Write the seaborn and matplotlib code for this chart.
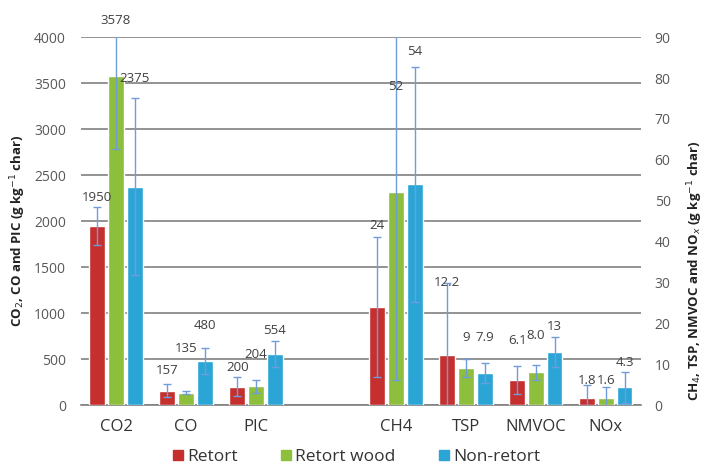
import numpy as np
import pandas as pd
import matplotlib
matplotlib.use("Agg")
import matplotlib.pyplot as plt
import seaborn as sns
from matplotlib.lines import Line2D
from matplotlib.container import BarContainer

# ---------------- data ----------------
categories = ["CO2", "CO", "PIC", " ", "CH4", "TSP", "NMVOC", "NOx"]
left_cats = ["CO2", "CO", "PIC"]
right_cats = ["CH4", "TSP", "NMVOC", "NOx"]
sources = ["Retort", "Retort wood", "Non-retort"]

# left axis (CO2, CO, PIC), g/kg char
left_retort = [1950, 157, 200]
left_wood = [3578, 135, 204]
left_nonretort = [2375, 480, 554]
left_err_retort = [205, 70, 100]
left_err_wood = [790, 20, 70]
left_err_nonretort = [965, 142, 142]
left_lbl_retort = ["1950", "157", "200"]
left_lbl_wood = ["3578", "135", "204"]
left_lbl_nonretort = ["2375", "480", "554"]

# right axis (CH4, TSP, NMVOC, NOx), g/kg char
right_retort = [24, 12.2, 6.1, 1.8]
right_wood = [52, 9, 8.0, 1.6]
right_nonretort = [54, 7.9, 13, 4.3]
right_err_retort = [17.2, 17.6, 3.4, 3.0]
right_err_wood = [46, 2.2, 1.9, 2.8]
right_err_nonretort = [28.8, 2.4, 3.7, 3.8]
right_lbl_retort = ["24", "12.2", "6.1", "1.8"]
right_lbl_wood = ["52", "9", "8.0", "1.6"]
right_lbl_nonretort = ["54", "7.9", "13", "4.3"]

# label anchor heights (layout, axis data units)
left_lbl_pos = {"Retort": [2261, 370, 413], "Retort wood": [4185, 620, 554],
                "Non-retort": [3554, 870, 815]}
right_lbl_pos = {"Retort": [44.0, 30.1, 15.7, 6.1], "Retort wood": [78.0, 16.6, 16.9, 6.1],
                 "Non-retort": [86.6, 16.6, 19.3, 10.5]}


def make_df(cats, vals, errs, lbls):
    rows = []
    for src, v, e, l in zip(sources, vals, errs, lbls):
        for i, c in enumerate(cats):
            rows.append({"category": c, "source": src, "value": v[i], "err": e[i], "label": l[i], "idx": i})
    return pd.DataFrame(rows)


df_left = make_df(left_cats, [left_retort, left_wood, left_nonretort],
                  [left_err_retort, left_err_wood, left_err_nonretort],
                  [left_lbl_retort, left_lbl_wood, left_lbl_nonretort])
df_right = make_df(right_cats, [right_retort, right_wood, right_nonretort],
                   [right_err_retort, right_err_wood, right_err_nonretort],
                   [right_lbl_retort, right_lbl_wood, right_lbl_nonretort])

colors = {"Retort": "#C52F2D", "Retort wood": "#8DBE3C", "Non-retort": "#2AA5D5"}

# ---------------- style ----------------
sns.set_theme(style="white")
plt.rcParams['font.family'] = ['Open Sans', 'DejaVu Sans']

fig = plt.figure(figsize=(7.05, 4.65), dpi=100)
ax = fig.add_axes([0.115, 0.129, 0.794, 0.791])
ax2 = ax.twinx()

sns.barplot(data=df_left, x="category", y="value", hue="source", order=categories,
            hue_order=sources, palette=colors, width=0.8, gap=0.15, errorbar=None,
            legend=False, saturation=1, ax=ax, zorder=3)
sns.barplot(data=df_right, x="category", y="value", hue="source", order=categories,
            hue_order=sources, palette=colors, width=0.8, gap=0.15, errorbar=None,
            legend=False, saturation=1, ax=ax2, zorder=3)


def decorate(axis, df, lbl_pos):
    bar_conts = [c for c in axis.containers if isinstance(c, BarContainer)]
    for hi, cont in enumerate(bar_conts):
        src = sources[hi]
        for bar in cont:
            h = bar.get_height()
            if not np.isfinite(h):
                continue
            xc = bar.get_x() + bar.get_width() / 2
            cat = categories[int(round(xc))]
            row = df[(df.category == cat) & (df.source == src)]
            if row.empty:
                continue
            r = row.iloc[0]
            eb = axis.errorbar(xc, r.value, yerr=r.err, fmt="none", ecolor="#6F9DDB",
                               elinewidth=1.0, capsize=3, capthick=1.0, zorder=6)
            for cap in eb[1]:
                cap.set_color("#56739E")
            axis.text(xc, lbl_pos[src][int(r.idx)], r.label, ha="center", va="center",
                      fontsize=9.5, color="#404040", zorder=7, clip_on=False)


decorate(ax, df_left, left_lbl_pos)
decorate(ax2, df_right, right_lbl_pos)

ax.set_xlim(-0.5, 7.5)
ax.set_ylim(0, 4000)
ax.set_yticks(np.arange(0, 4001, 500))
ax2.set_ylim(0, 90)
ax2.set_yticks(np.arange(0, 91, 10))
ax.set_xticks(range(len(categories)))
ax.set_xticklabels(categories)

ax.set_axisbelow(True)
ax.grid(axis="y", color="#808080", lw=1.2)
ax.grid(axis="x", visible=False)
ax2.grid(False)

for a in (ax, ax2):
    for s in ("top", "left", "right"):
        a.spines[s].set_visible(False)
ax2.spines["bottom"].set_visible(False)
ax.spines["bottom"].set_color("#808080")
ax.spines["bottom"].set_linewidth(1.2)

ax.tick_params(axis="x", length=0, pad=10, labelsize=12, labelcolor="#333333")
ax.tick_params(axis="y", length=0, pad=11, labelsize=10, labelcolor="#595959")
ax2.tick_params(axis="y", length=0, pad=10, labelsize=10, labelcolor="#595959")

ax.set_xlabel("")
ax.set_ylabel(r"CO$_2$, CO and PIC (g kg$^{-1}$ char)", fontsize=9.5, fontweight="bold",
              color="#222222")
ax.yaxis.set_label_coords(-0.094, 0.475)
ax2.set_ylabel(r"CH$_4$, TSP, NMVOC and NO$_x$ (g kg$^{-1}$ char)", fontsize=9.5,
               fontweight="bold", color="#222222", rotation=90)
ax2.yaxis.set_label_coords(1.080, 0.365)

handles = [Line2D([0], [0], marker="s", linestyle="none", markersize=7.5,
                  markerfacecolor=colors[s], markeredgecolor=colors[s]) for s in sources]
fig.legend(handles, sources, loc="center", bbox_to_anchor=(0.505, 0.017), ncol=3,
           frameon=False, fontsize=12.5, handletextpad=0.2, columnspacing=2.4,
           handlelength=0.7, labelcolor="#333333")

fig.savefig("out.png", dpi=100)
